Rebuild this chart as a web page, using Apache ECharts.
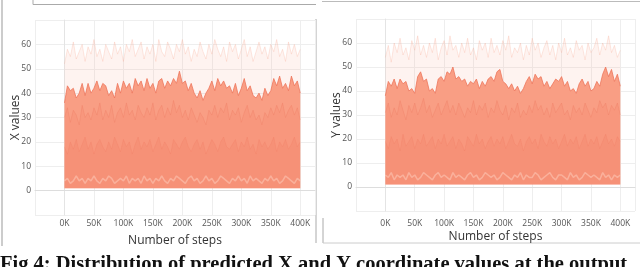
<!DOCTYPE html>
<html><head><meta charset="utf-8">
<script src="https://cdn.jsdelivr.net/npm/echarts@6/dist/echarts.min.js"></script>
<style>html,body{margin:0;padding:0;background:#fff}#c{width:640px;height:267px}</style>
</head><body><div id="c"></div>
<script>
// x: number of steps, one point every 5K from 0K to 400K
const steps = Array.from({length: 81}, (_, i) => i * 5000);
const xTicks = ['0K','50K','100K','150K','200K','250K','300K','350K','400K'];
const yTicks = [0,10,20,30,40,50,60];

// Left panel (X values): envelopes
const leftFaint = [52,58,55,61,54,57,60,53,59,56, 62,55,58,53,60,57,54,61,56,59,
  53,60,57,62,55,58,61,54,59,56, 60,53,62,57,55,61,58,54,60,57,
  62,56,59,53,58,55,61,57,54,60, 56,62,58,55,59,53,61,57,60,54,
  58,62,55,59,53,57,61,56,59,54, 60,57,62,55,58,53,61,56,60,55, 58];
const leftMain = [36,43,41,42,38,40,44,39,44,40, 42,45,41,44,43,39,41,38,44,40,
  45,42,44,40,46,43,45,41,46,42, 44,40,45,46,42,45,43,46,44,49,
  44,45,41,44,40,38,41,37,40,42, 45,41,46,43,45,42,43,40,44,39,
  42,46,41,43,39,38,40,37,42,39, 41,46,43,47,42,44,41,47,43,45, 40];
const leftCore = [30,34,28,33,31,27,35,30,32,29, 34,31,36,29,33,30,35,28,32,34,
  30,36,31,33,29,35,32,30,34,31, 36,29,33,35,30,34,31,37,32,35,
  30,33,29,34,31,28,32,30,27,33, 31,35,30,34,32,36,29,33,31,34,
  28,32,35,30,33,29,31,27,32,30, 34,31,35,32,36,30,33,35,31,34, 29];
const leftInner = [18,15,20,17,21,16,19,22,17,20, 15,19,21,18,16,20,17,22,19,16,
  21,18,20,15,19,22,17,20,18,21, 16,19,22,17,20,18,15,21,19,17,
  20,22,18,16,19,21,17,20,15,18, 21,19,16,20,22,18,17,19,21,16,
  20,18,22,17,19,15,21,18,20,17, 19,22,16,20,18,21,17,19,22,18, 20];
const leftLow = [4,5,3,4,6,4,5,3,5,4, 6,4,3,5,4,6,5,3,4,5, 4,6,3,5,4,5,3,6,4,5,
  3,5,4,6,4,3,5,4,6,5, 4,3,5,6,4,5,3,4,6,4, 5,3,4,6,5,4,3,5,4,6,
  4,5,3,6,4,5,4,3,5,4, 6,4,5,3,4,6,5,4,3,5, 4];

// Right panel (Y values)
const rightFaint = [54,59,52,60,56,62,55,58,53,61, 57,63,55,59,54,60,56,62,53,58,
  61,55,63,57,59,54,60,56,62,55, 58,53,61,57,60,54,62,56,59,55,
  61,57,63,54,58,56,60,53,59,55, 62,57,60,54,58,61,55,59,53,60,
  56,62,55,58,54,61,57,59,53,60, 56,58,62,55,60,57,63,56,59,54, 57];
const rightMain = [38,44,42,45,41,45,43,44,40,41, 39,46,48,44,45,40,41,39,45,46,
  44,48,47,50,45,46,44,45,42,44, 43,45,41,44,42,45,46,44,48,49,
  44,43,41,43,40,42,39,41,44,46, 43,47,45,46,42,44,41,43,45,44,
  46,42,44,40,41,39,43,45,42,44, 40,41,44,42,47,50,46,49,44,47, 42];
const rightCore = [31,35,29,33,30,36,32,28,34,31, 35,30,33,37,31,34,29,32,35,30,
  33,36,31,34,30,35,32,29,33,31, 36,30,34,32,35,29,33,31,36,32,
  30,34,28,33,31,35,29,32,30,34, 31,36,32,34,30,33,29,35,31,33,
  35,30,32,28,34,31,33,30,35,32, 29,33,31,36,33,35,30,34,32,35, 30];
const rightInner = [19,16,21,18,20,15,22,17,19,21, 16,20,18,22,17,19,21,16,20,18,
  22,17,19,21,16,20,18,15,21,19, 17,22,18,20,16,19,21,17,20,18,
  21,16,19,22,18,17,20,15,19,21, 18,20,16,22,19,17,21,18,20,16,
  19,22,17,20,18,21,16,19,22,17, 20,18,21,16,19,22,18,20,17,21, 19];
const rightLow = [5,4,6,3,5,4,5,3,6,4, 5,3,4,6,5,4,3,5,6,4, 5,4,3,6,4,5,4,3,5,6,
  4,5,3,4,6,5,4,5,3,4, 6,5,4,3,5,4,6,3,5,4, 4,6,5,3,4,5,6,4,3,5,
  5,4,3,6,4,5,3,4,6,5, 4,5,4,3,6,4,5,3,5,4, 5];

const pair = arr => arr.map((v, i) => [steps[i], v]);

const chart = echarts.init(document.getElementById('c'), null, {renderer: 'canvas'});
const tickFont = {fontFamily: 'Open Sans', fontSize: 8.5, color: '#555'};
function xAxis(idx, margin) {
  return {gridIndex: idx, type: 'value', min: -50000, max: 425000, interval: 50000,
    axisLine: {show: true, lineStyle: {color: '#ddd'}}, axisTick: {show: false},
    splitLine: {show: true, lineStyle: {color: '#eee', width: 1}},
    axisLabel: Object.assign({margin: margin, formatter: v => {
      const i = Math.round(v / 50000);
      return (v >= 0 && v <= 400000 && v % 50000 === 0) ? xTicks[i] : '';
    }}, tickFont),
    name: 'Number of steps', nameLocation: 'middle', nameGap: 20, nameMoveOverlap: false,
    nameTextStyle: {fontFamily: 'Open Sans', fontSize: 12, color: '#333'}};
}
function yAxis(idx, name) {
  return {gridIndex: idx, type: 'value', min: -10, max: 70, interval: 10,
    axisLine: {show: true, lineStyle: {color: '#e4e4e4'}}, axisTick: {show: false},
    splitLine: {show: true, lineStyle: {color: '#eee', width: 1}},
    axisLabel: Object.assign({margin: 4, formatter: v => (yTicks.indexOf(v) >= 0 ? String(v) : '')}, tickFont),
    name: name, nameLocation: 'middle', nameGap: 13, nameRotate: 90, nameMoveOverlap: false,
    nameTextStyle: {fontFamily: 'Open Sans', fontSize: 12, color: '#333'}};
}
function band(idx, data, fill, stroke, lw, z) {
  return {type: 'line', xAxisIndex: idx, yAxisIndex: idx, data: pair(data), symbol: 'none',
    smooth: false, z: z, silent: true, animation: false,
    lineStyle: {color: stroke, width: lw},
    areaStyle: fill ? {color: fill, origin: 1, opacity: 1} : undefined};
}
function panel(idx, faint, main, core, inner, low) {
  return [
    band(idx, faint, 'rgba(248,180,160,0.16)', 'rgba(246,165,142,0.32)', 0.8, 2),
    band(idx, main, 'rgba(249,158,132,1)', 'rgba(236,114,88,0.85)', 0.9, 3),
    band(idx, core, 'rgba(240,118,92,0.16)', 'rgba(236,112,86,0.3)', 0.8, 4),
    band(idx, inner, 'rgba(238,110,84,0.12)', 'rgba(236,110,84,0.2)', 0.8, 5),
    band(idx, low, null, 'rgba(255,215,200,0.45)', 1.5, 6)
  ];
}

chart.setOption({
  animation: false,
  backgroundColor: '#fff',
  grid: [
    {left: 35, top: 20, width: 280, height: 195},
    {left: 356, top: 19, width: 279, height: 192}
  ],
  xAxis: [xAxis(0, 4), xAxis(1, 8)],
  yAxis: [yAxis(0, 'X values'), yAxis(1, 'Y values')],
  series: panel(0, leftFaint, leftMain, leftCore, leftInner, leftLow)
    .concat(panel(1, rightFaint, rightMain, rightCore, rightInner, rightLow)),
  graphic: [
    {type: 'line', shape: {x1: 2, y1: 0, x2: 2, y2: 246}, style: {stroke: '#999', lineWidth: 1}},
    {type: 'line', shape: {x1: 33, y1: 4.5, x2: 316, y2: 4.5}, style: {stroke: '#aaa', lineWidth: 1}},
    {type: 'line', shape: {x1: 33, y1: 0, x2: 33, y2: 4.5}, style: {stroke: '#aaa', lineWidth: 1}},
    {type: 'line', shape: {x1: 316, y1: 19, x2: 316, y2: 243}, style: {stroke: '#aaa', lineWidth: 1}},
    {type: 'line', shape: {x1: 322, y1: 1.5, x2: 640, y2: 1.5}, style: {stroke: '#bbb', lineWidth: 1}},
    {type: 'line', shape: {x1: 323, y1: 218, x2: 323, y2: 243}, style: {stroke: '#aaa', lineWidth: 1}},
    {type: 'line', shape: {x1: 323, y1: 243, x2: 640, y2: 243}, style: {stroke: '#ccc', lineWidth: 1}},
    {type: 'text', left: 0, top: 254, style: {text: 'Fig 4: Distribution of predicted X and Y coordinate values at the output',
      font: 'bold 20.5px "Liberation Serif"', fill: '#111'}}
  ]
});
</script></body></html>
